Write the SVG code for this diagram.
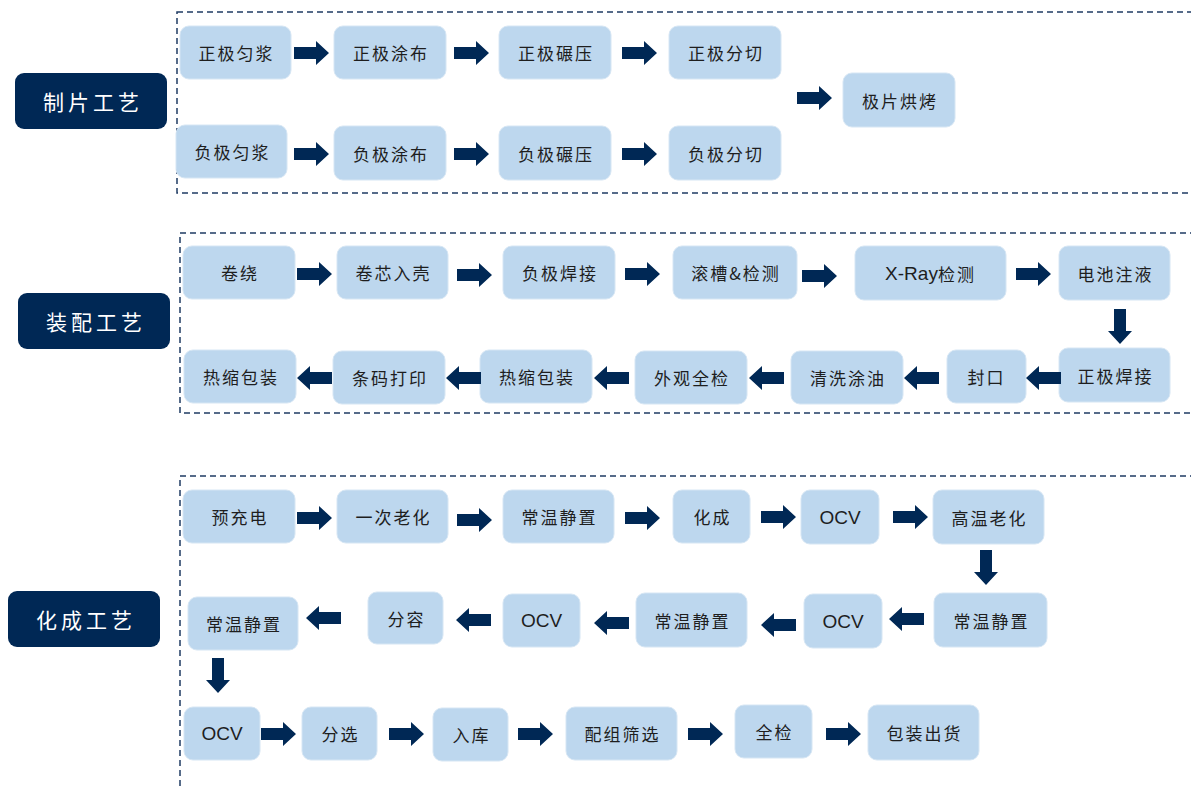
<svg xmlns="http://www.w3.org/2000/svg" xmlns:xlink="http://www.w3.org/1999/xlink" width="1191" height="787" viewBox="0 0 1191 787">
<style>
.n rect{fill:#BDD7EE;stroke:#D6E6F4;stroke-width:1}
.n text{font-family:"Noto Sans CJK SC","Liberation Sans",sans-serif;font-size:17px;fill:#1E1E1E;text-anchor:middle;dominant-baseline:central;letter-spacing:2px}
.n text.l{font-family:"Liberation Sans","Noto Sans CJK SC",sans-serif;font-size:19px;letter-spacing:0}
.lb rect{fill:#002855}
.lb text{font-family:"Noto Sans CJK SC",sans-serif;font-size:21px;fill:#FFFFFF;text-anchor:middle;dominant-baseline:central;letter-spacing:4px}
.box{fill:none;stroke:#1F3B63;stroke-width:1.5;stroke-dasharray:6 4}
.c use{fill:#002855}
</style>
<defs>
<path id="ar" d="M0,-6 H22 V-12 L35,0 L22,12 V6 H0 Z"/>
<path id="al" d="M0,0 L13,-12 V-6 H35 V6 H13 V12 Z"/>
<path id="ad" d="M-6,0 V22 H-12 L0,35 L12,22 H6 V0 Z"/>
</defs>
<rect width="1191" height="787" fill="#FFFFFF"/>
<g id="frames">
<rect class="box" x="177" y="12" width="1030" height="181"/>
<rect class="box" x="180" y="233" width="1030" height="180"/>
<rect class="box" x="180" y="476" width="1030" height="330"/>
</g>
<g id="label1" class="lb"><rect x="15" y="73" width="152" height="56" rx="9"/><text x="93" y="101">制片工艺</text></g>
<g id="label2" class="lb"><rect x="18" y="293" width="152" height="56" rx="9"/><text x="96" y="321">装配工艺</text></g>
<g id="label3" class="lb"><rect x="8" y="591" width="152" height="56" rx="9"/><text x="86" y="619">化成工艺</text></g>
<g id="s1n1" class="n"><rect x="180" y="26" width="111" height="53" rx="9"/><text x="236.5" y="52.5">正极匀浆</text></g>
<g id="s1n2" class="n"><rect x="334" y="26" width="112" height="53" rx="9"/><text x="391" y="52.5">正极涂布</text></g>
<g id="s1n3" class="n"><rect x="499" y="26" width="112" height="53" rx="9"/><text x="556" y="52.5">正极碾压</text></g>
<g id="s1n4" class="n"><rect x="669" y="26" width="112" height="53" rx="9"/><text x="726" y="52.5">正极分切</text></g>
<g id="s1n5" class="n"><rect x="176" y="125" width="111" height="53" rx="9"/><text x="232.5" y="151.5">负极匀浆</text></g>
<g id="s1n6" class="n"><rect x="334" y="126" width="112" height="54" rx="9"/><text x="391" y="153">负极涂布</text></g>
<g id="s1n7" class="n"><rect x="499" y="126" width="112" height="54" rx="9"/><text x="556" y="153">负极碾压</text></g>
<g id="s1n8" class="n"><rect x="669" y="126" width="112" height="54" rx="9"/><text x="726" y="153">负极分切</text></g>
<g id="s1n9" class="n"><rect x="843" y="73" width="112" height="54" rx="9"/><text x="900" y="100">极片烘烤</text></g>
<g id="s2n1" class="n"><rect x="183" y="246" width="112" height="53" rx="9"/><text x="240" y="272.5">卷绕</text></g>
<g id="s2n2" class="n"><rect x="337" y="246" width="111" height="53" rx="9"/><text x="393.5" y="272.5">卷芯入壳</text></g>
<g id="s2n3" class="n"><rect x="503" y="246" width="112" height="53" rx="9"/><text x="560" y="272.5">负极焊接</text></g>
<g id="s2n4" class="n"><rect x="673" y="246" width="124" height="53" rx="9"/><text x="736" y="272.5">滚槽&amp;检测</text></g>
<g id="s2n5" class="n"><rect x="855" y="246" width="151" height="54" rx="9"/><text x="930.5" y="273"><tspan style="font-family:'Liberation Sans',sans-serif;font-size:19px;letter-spacing:0">X-Ray</tspan>检测</text></g>
<g id="s2n6" class="n"><rect x="1059" y="246" width="111" height="54" rx="9"/><text x="1115.5" y="273">电池注液</text></g>
<g id="s2n7" class="n"><rect x="1059" y="348" width="111" height="54" rx="9"/><text x="1115.5" y="375">正极焊接</text></g>
<g id="s2n8" class="n"><rect x="947" y="350" width="79" height="53" rx="9"/><text x="986.5" y="376.5">封口</text></g>
<g id="s2n9" class="n"><rect x="791" y="351" width="112" height="53" rx="9"/><text x="848" y="377.5">清洗涂油</text></g>
<g id="s2n10" class="n"><rect x="635" y="351" width="112" height="53" rx="9"/><text x="692" y="377.5">外观全检</text></g>
<g id="s2n11" class="n"><rect x="480" y="350" width="112" height="53" rx="9"/><text x="537" y="376.5">热缩包装</text></g>
<g id="s2n12" class="n"><rect x="333" y="351" width="112" height="53" rx="9"/><text x="390" y="377.5">条码打印</text></g>
<g id="s2n13" class="n"><rect x="184" y="350" width="112" height="53" rx="9"/><text x="241" y="376.5">热缩包装</text></g>
<g id="s3n1" class="n"><rect x="183" y="490" width="112" height="53" rx="9"/><text x="240" y="516.5">预充电</text></g>
<g id="s3n2" class="n"><rect x="337" y="490" width="111" height="53" rx="9"/><text x="393.5" y="516.5">一次老化</text></g>
<g id="s3n3" class="n"><rect x="503" y="490" width="111" height="53" rx="9"/><text x="559.5" y="516.5">常温静置</text></g>
<g id="s3n4" class="n"><rect x="673" y="490" width="77" height="53" rx="9"/><text x="712.5" y="516.5">化成</text></g>
<g id="s3n5" class="n"><rect x="801" y="490" width="78" height="54" rx="9"/><text class="l" x="840" y="517">OCV</text></g>
<g id="s3n6" class="n"><rect x="933" y="490" width="111" height="54" rx="9"/><text x="989.5" y="517">高温老化</text></g>
<g id="s3n7" class="n"><rect x="934" y="593" width="113" height="54" rx="9"/><text x="991.5" y="620">常温静置</text></g>
<g id="s3n8" class="n"><rect x="804" y="594" width="78" height="54" rx="9"/><text class="l" x="843" y="621">OCV</text></g>
<g id="s3n9" class="n"><rect x="636" y="593" width="111" height="54" rx="9"/><text x="692.5" y="620">常温静置</text></g>
<g id="s3n10" class="n"><rect x="503" y="594" width="77" height="53" rx="9"/><text class="l" x="541.5" y="620.5">OCV</text></g>
<g id="s3n11" class="n"><rect x="368" y="592" width="75" height="52" rx="9"/><text x="406.5" y="618">分容</text></g>
<g id="s3n12" class="n"><rect x="188" y="597" width="110" height="53" rx="9"/><text x="244" y="623.5">常温静置</text></g>
<g id="s3n13" class="n"><rect x="184" y="707" width="76" height="53" rx="9"/><text class="l" x="222" y="733.5">OCV</text></g>
<g id="s3n14" class="n"><rect x="302" y="707" width="75" height="53" rx="9"/><text x="340.5" y="733.5">分选</text></g>
<g id="s3n15" class="n"><rect x="433" y="708" width="75" height="53" rx="9"/><text x="471.5" y="734.5">入库</text></g>
<g id="s3n16" class="n"><rect x="566" y="707" width="111" height="53" rx="9"/><text x="622.5" y="733.5">配组筛选</text></g>
<g id="s3n17" class="n"><rect x="735" y="705" width="77" height="53" rx="9"/><text x="774.5" y="731.5">全检</text></g>
<g id="s3n18" class="n"><rect x="868" y="705" width="111" height="55" rx="9"/><text x="924.5" y="732.5">包装出货</text></g>
<g id="connectors" class="c">
<use xlink:href="#ar" x="294" y="53"/>
<use xlink:href="#ar" x="454" y="53"/>
<use xlink:href="#ar" x="622" y="53"/>
<use xlink:href="#ar" x="294" y="154"/>
<use xlink:href="#ar" x="454" y="154"/>
<use xlink:href="#ar" x="622" y="154"/>
<use xlink:href="#ar" x="797" y="98"/>
<use xlink:href="#ar" x="297" y="274"/>
<use xlink:href="#ar" x="457" y="275"/>
<use xlink:href="#ar" x="625" y="274"/>
<use xlink:href="#ar" x="802" y="276"/>
<use xlink:href="#ar" x="1016" y="274"/>
<use xlink:href="#ad" x="1120" y="309"/>
<use xlink:href="#al" x="1026" y="378"/>
<use xlink:href="#al" x="904" y="378"/>
<use xlink:href="#al" x="749" y="378"/>
<use xlink:href="#al" x="594" y="378"/>
<use xlink:href="#al" x="446" y="378"/>
<use xlink:href="#al" x="297" y="378"/>
<use xlink:href="#ar" x="297" y="518"/>
<use xlink:href="#ar" x="457" y="520"/>
<use xlink:href="#ar" x="625" y="518"/>
<use xlink:href="#ar" x="761" y="517"/>
<use xlink:href="#ar" x="893" y="517"/>
<use xlink:href="#ad" x="986" y="550"/>
<use xlink:href="#al" x="889" y="619"/>
<use xlink:href="#al" x="761" y="625"/>
<use xlink:href="#al" x="594" y="623"/>
<use xlink:href="#al" x="456" y="620"/>
<use xlink:href="#al" x="306" y="618"/>
<use xlink:href="#ad" x="218" y="658"/>
<use xlink:href="#ar" x="261" y="734"/>
<use xlink:href="#ar" x="389" y="734"/>
<use xlink:href="#ar" x="518" y="734"/>
<use xlink:href="#ar" x="688" y="734"/>
<use xlink:href="#ar" x="826" y="734"/>
</g>
</svg>
